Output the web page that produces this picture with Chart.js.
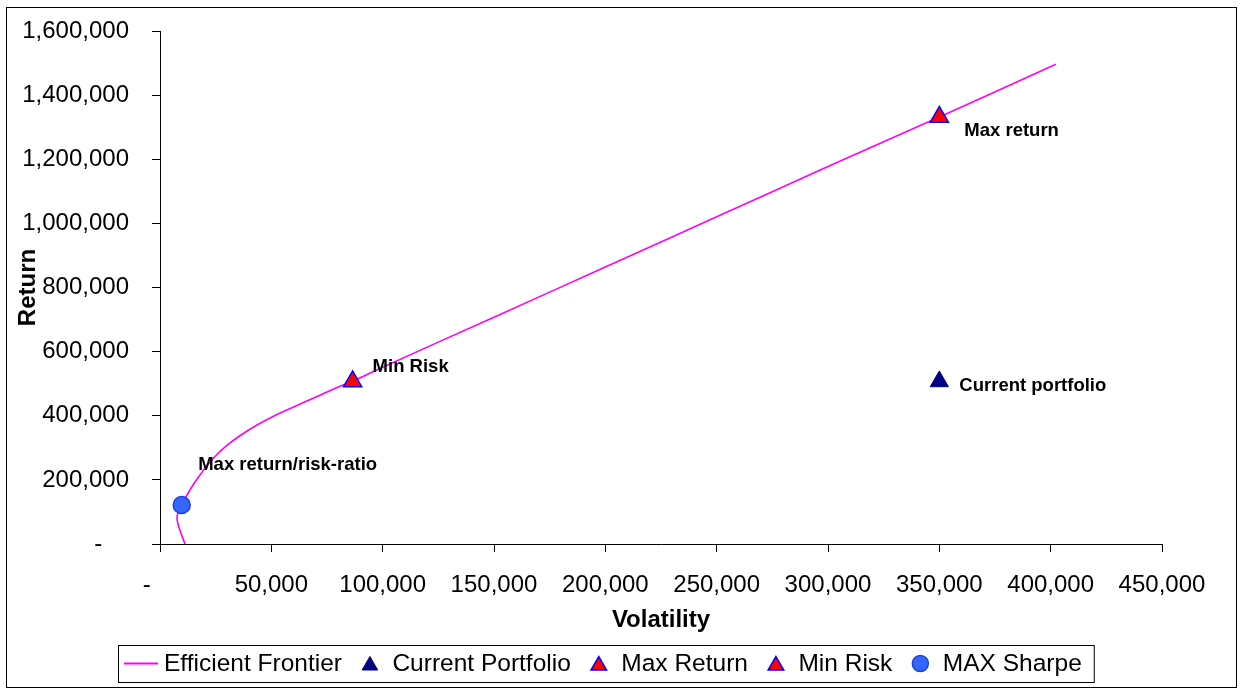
<!DOCTYPE html>
<html>
<head>
<meta charset="utf-8">
<script src="https://cdn.jsdelivr.net/npm/chart.js@4.4.1/dist/chart.umd.min.js"></script>
<style>
  html, body { margin: 0; padding: 0; background: #ffffff; }
  canvas { display: block; }
</style>
</head>
<body>
<canvas id="frontier" width="1241" height="690"></canvas>
<script>
// Efficient frontier: volatility (x) and expected return (y), ordered from the bottom of the curve upwards
const frontierRisk   = [11230, 9210, 8080, 7630, 8530, 9750, 12130, 14820, 17960, 21330, 25370, 30310, 36380, 43560, 52100, 61980, 72080, 82190, 86500, 100000, 150000, 200000, 250000, 300000, 350000, 402300];
const frontierReturn = [0, 37400, 62400, 84200, 106000, 121600, 152800, 184000, 215200, 246400, 277600, 308800, 340000, 371200, 402400, 433500, 464700, 495900, 507000, 551400, 707400, 863900, 1020500, 1177100, 1332000, 1496100];

// Highlighted portfolios
const pointNames    = ['Current Portfolio', 'Max Return', 'Min Risk', 'MAX Sharpe'];
const pointCaptions = ['Current portfolio', 'Max return', 'Min Risk', 'Max return/risk-ratio'];
const pointRisk     = [350000, 350000, 86500, 9750];
const pointReturn   = [507000, 1332000, 507000, 121600];

// Axis tick labels (accounting style, zero shown as a dash)
const xTickLabels = ['-    ', '50,000', '100,000', '150,000', '200,000', '250,000', '300,000', '350,000', '400,000', '450,000'];
const yTickLabels = ['-    ', '200,000', '400,000', '600,000', '800,000', '1,000,000', '1,200,000', '1,400,000', '1,600,000'];

const FONT = "'Liberation Sans', Arial, sans-serif";

// Marker styles for the highlighted portfolios
const markerStyles = [
  { pointStyle: 'triangle', radius: 10.5, backgroundColor: '#000080', borderColor: '#000080', borderWidth: 1 },
  { pointStyle: 'triangle', radius: 10.5, backgroundColor: '#FF0000', borderColor: '#0000FF', borderWidth: 1.5 },
  { pointStyle: 'triangle', radius: 10.5, backgroundColor: '#FF0000', borderColor: '#0000FF', borderWidth: 1.5 },
  { pointStyle: 'circle',   radius: 8.5,  backgroundColor: '#3366FF', borderColor: '#1F3FD9', borderWidth: 1.5 }
];
// Caption offsets from each marker (pixels)
const captionOffsets = [[20, 4], [25, 14], [20, -15], [16.5, -40]];

const datasets = [{
  label: 'Efficient Frontier',
  data: frontierRisk.map((r, i) => ({ x: r, y: frontierReturn[i] })),
  showLine: true,
  borderColor: '#FF00FF',
  backgroundColor: '#FF00FF',
  borderWidth: 1.6,
  pointRadius: 0,
  pointHoverRadius: 0,
  tension: 0.4,
  fill: false,
  order: 5
}];
pointNames.forEach((name, i) => {
  const s = markerStyles[i];
  datasets.push({
    label: name,
    data: [{ x: pointRisk[i], y: pointReturn[i] }],
    showLine: false,
    pointStyle: s.pointStyle,
    pointRadius: s.radius,
    pointHoverRadius: s.radius,
    pointBackgroundColor: s.backgroundColor,
    pointBorderColor: s.borderColor,
    pointBorderWidth: s.borderWidth,
    backgroundColor: s.backgroundColor,
    borderColor: s.borderColor,
    borderWidth: s.borderWidth,
    caption: pointCaptions[i],
    captionOffset: captionOffsets[i],
    clip: false,
    order: 1
  });
});

// White page with a thin outer frame
const framePlugin = {
  id: 'frame',
  beforeDraw(chart) {
    const ctx = chart.ctx;
    ctx.save();
    ctx.fillStyle = '#ffffff';
    ctx.fillRect(0, 0, chart.width, chart.height);
    ctx.restore();
  },
  afterDraw(chart) {
    const ctx = chart.ctx;
    ctx.save();
    ctx.strokeStyle = '#000000';
    ctx.lineWidth = 1;
    ctx.strokeRect(6.5, 7.5, chart.width - 11, chart.height - 10);
    ctx.restore();
  }
};

// Bold captions next to the highlighted portfolios
const captionPlugin = {
  id: 'captions',
  afterDatasetsDraw(chart) {
    const ctx = chart.ctx;
    ctx.save();
    ctx.font = 'bold 18.5px ' + FONT;
    ctx.fillStyle = '#000000';
    ctx.textAlign = 'left';
    ctx.textBaseline = 'middle';
    chart.data.datasets.forEach((ds, i) => {
      if (!ds.caption) return;
      const el = chart.getDatasetMeta(i).data[0];
      ctx.fillText(ds.caption, el.x + ds.captionOffset[0], el.y + ds.captionOffset[1]);
    });
    ctx.restore();
  }
};

// Boxed legend row below the axis title
const legendPlugin = {
  id: 'boxLegend',
  afterDraw(chart) {
    const ctx = chart.ctx;
    const left = 118, top = 645, height = 37;
    const cy = top + height / 2;
    ctx.save();
    ctx.font = '24.5px ' + FONT;
    ctx.textBaseline = 'middle';
    ctx.textAlign = 'left';
    let x = left + 6;
    chart.data.datasets.forEach((ds, i) => {
      if (i === 0) {
        ctx.strokeStyle = ds.borderColor;
        ctx.lineWidth = 2;
        ctx.beginPath();
        ctx.moveTo(x, cy);
        ctx.lineTo(x + 34, cy);
        ctx.stroke();
        x += 40;
      } else {
        x += 20;
        const st = markerStyles[i - 1];
        ctx.fillStyle = st.backgroundColor;
        ctx.strokeStyle = st.borderColor;
        ctx.lineWidth = st.borderWidth;
        const isCircle = st.pointStyle === 'circle';
        const r = isCircle ? 8 : 9;
        const my = isCircle ? cy : cy + 2;
        Chart.helpers.drawPoint(ctx, { pointStyle: st.pointStyle, radius: r, rotation: 0, borderWidth: st.borderWidth }, x + 8, my);
        x += 16 + 14.5;
      }
      ctx.fillStyle = '#000000';
      ctx.fillText(ds.label, x, cy + 1);
      x += ctx.measureText(ds.label).width;
    });
    const right = x + 12;
    ctx.strokeStyle = '#000000';
    ctx.lineWidth = 1;
    ctx.strokeRect(left + 0.5, top + 0.5, right - left, height);
    ctx.restore();
  }
};

new Chart(document.getElementById('frontier'), {
  type: 'scatter',
  data: { datasets },
  options: {
    responsive: false,
    animation: false,
    devicePixelRatio: 1,
    layout: { padding: { left: 0, right: 79, top: 31, bottom: 51.6 } },
    plugins: {
      legend: { display: false },
      tooltip: { enabled: false }
    },
    scales: {
      x: {
        type: 'linear',
        position: 'bottom',
        min: 0,
        max: 450000,
        afterFit(scale) {
          scale.height = 94.4;
          scale.paddingLeft = 0;
          scale.paddingRight = 0;
        },
        ticks: {
          stepSize: 50000,
          autoSkip: false,
          maxRotation: 0,
          padding: 19,
          color: '#000000',
          font: { family: FONT, size: 24 },
          callback: (v, i) => xTickLabels[i]
        },
        grid: { drawOnChartArea: false, drawTicks: true, tickLength: 8, tickColor: '#000000', color: '#000000' },
        border: { display: true, color: '#000000', width: 1 },
        title: { display: true, text: 'Volatility', color: '#000000', font: { family: FONT, size: 24, weight: 'bold' }, padding: { top: 0, bottom: 4 } }
      },
      y: {
        type: 'linear',
        position: 'left',
        min: 0,
        max: 1600000,
        afterFit(scale) {
          scale.width = 160;
          scale.paddingTop = 0;
          scale.paddingBottom = 0;
        },
        ticks: {
          stepSize: 200000,
          autoSkip: false,
          padding: 23,
          color: '#000000',
          font: { family: FONT, size: 24 },
          callback: (v, i) => yTickLabels[i]
        },
        grid: { drawOnChartArea: false, drawTicks: true, tickLength: 8, tickColor: '#000000', color: '#000000' },
        border: { display: true, color: '#000000', width: 1 },
        title: { display: true, text: 'Return', color: '#000000', font: { family: FONT, size: 24, weight: 'bold' }, padding: { top: 14, bottom: 0 } }
      }
    }
  },
  plugins: [framePlugin, captionPlugin, legendPlugin]
});
</script>
</body>
</html>
